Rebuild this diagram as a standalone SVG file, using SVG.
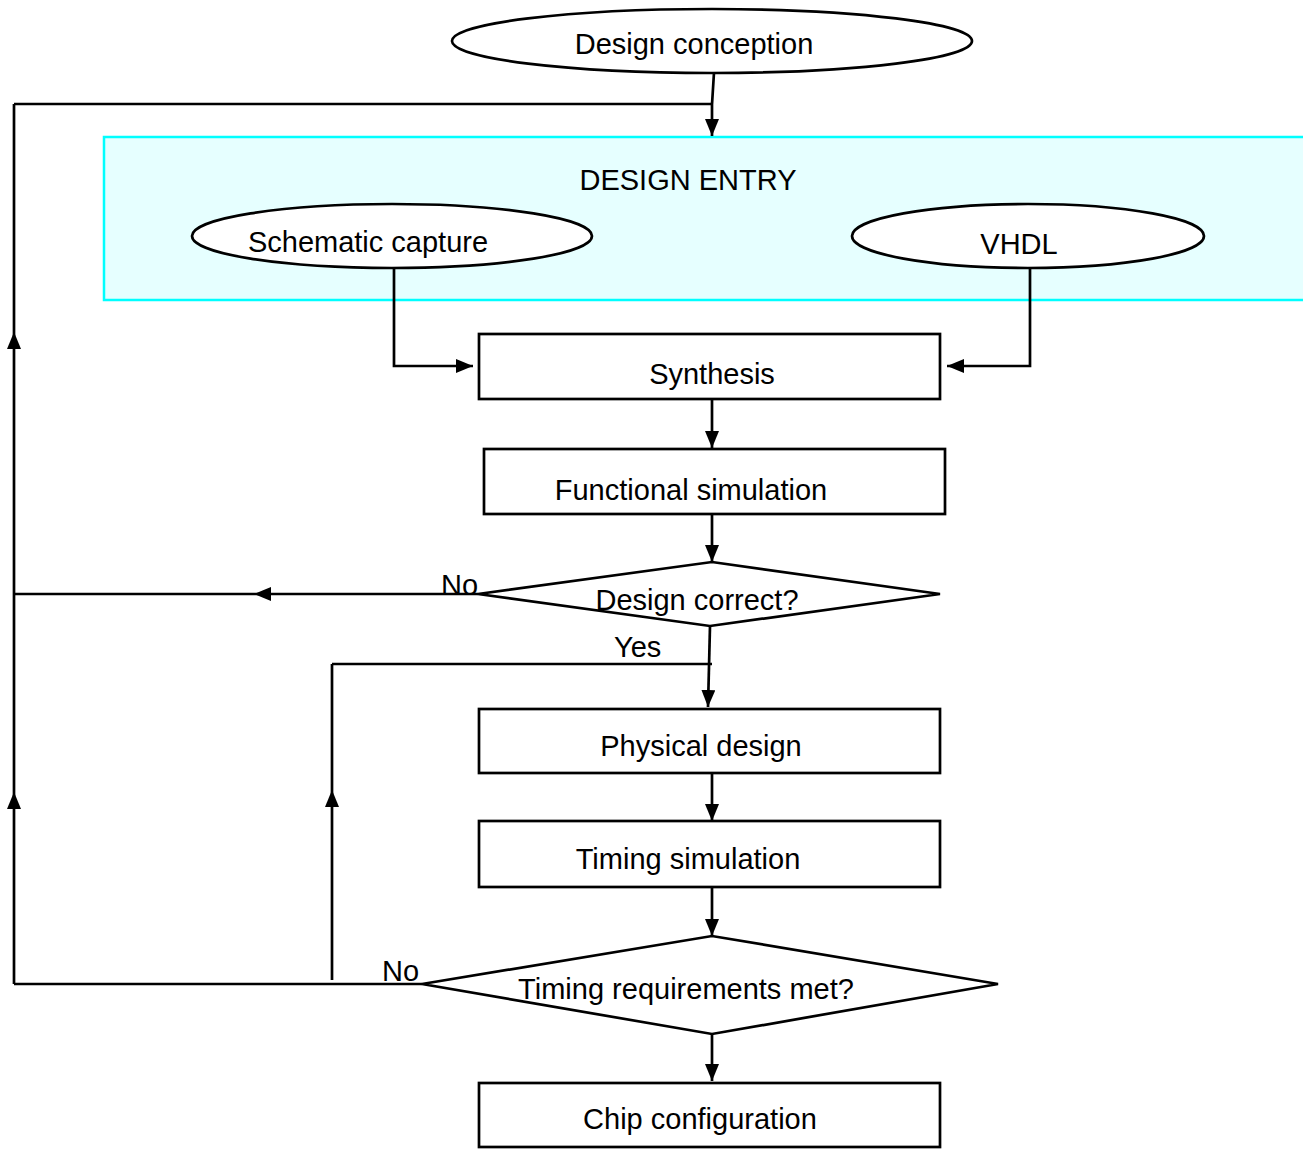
<svg xmlns="http://www.w3.org/2000/svg" width="1303" height="1149" viewBox="0 0 1303 1149">
<style>
.n{fill:#fff;stroke:#000;stroke-width:2.7}
.t{font-family:"Liberation Sans",Arial,sans-serif;font-size:29px;fill:#000;text-anchor:middle}
.l{font-family:"Liberation Sans",Arial,sans-serif;font-size:29px;fill:#000}
.c{fill:none;stroke:#000;stroke-width:2.7}
.a{fill:none;stroke:#000;stroke-width:2.7;marker-end:url(#ah)}
</style>
<defs>
<marker id="ah" markerWidth="17" markerHeight="14" refX="17" refY="7" orient="auto" markerUnits="userSpaceOnUse">
<path d="M0,0 L17,7 L0,14 Z" fill="#000"/>
</marker>
</defs>
<rect x="0" y="0" width="1303" height="1149" fill="#fff"/>
<g id="design-entry">
<rect x="104" y="137" width="1210" height="163" fill="#e6ffff" stroke="#00ffff" stroke-width="2.5"/>
<text class="t" x="688" y="190">DESIGN ENTRY</text>
</g>
<g id="connectors">
<path class="c" d="M714,73 L712,104"/>
<path class="a" d="M712,104 L712,136"/>
<path class="c" d="M712,104 L14,104"/>
<path class="a" d="M394,268 L394,366 L473,366"/>
<path class="a" d="M1030,268 L1030,366 L947,366"/>
<path class="a" d="M712,399 L712,448"/>
<path class="a" d="M712,514 L712,562"/>
<path class="a" d="M478,594 L254,594"/>
<path class="c" d="M254,594 L14,594"/>
<path class="a" d="M710,626 L708,707"/>
<path class="c" d="M712,664 L332,664"/>
<path class="a" d="M332,980 L332,790"/>
<path class="c" d="M332,790 L332,664"/>
<path class="a" d="M712,773 L712,821"/>
<path class="a" d="M712,887 L712,936"/>
<path class="c" d="M422,984 L14,984"/>
<path class="a" d="M14,984 L14,792"/>
<path class="a" d="M14,792 L14,332"/>
<path class="c" d="M14,332 L14,104"/>
<path class="a" d="M712,1034 L712,1081"/>
<text class="l" x="441" y="595">No</text>
<text class="l" x="614" y="657">Yes</text>
<text class="l" x="382" y="981">No</text>
</g>
<g id="design-conception">
<ellipse class="n" cx="712" cy="41" rx="260" ry="32"/>
<text class="t" x="694" y="54">Design conception</text>
</g>
<g id="schematic-capture">
<ellipse class="n" cx="392" cy="236" rx="200" ry="32"/>
<text class="t" x="368" y="252">Schematic capture</text>
</g>
<g id="vhdl">
<ellipse class="n" cx="1028" cy="236" rx="176" ry="32"/>
<text class="t" x="1019" y="254">VHDL</text>
</g>
<g id="synthesis">
<rect class="n" x="479" y="334" width="461" height="65"/>
<text class="t" x="712" y="384">Synthesis</text>
</g>
<g id="functional-simulation">
<rect class="n" x="484" y="449" width="461" height="65"/>
<text class="t" x="691" y="500">Functional simulation</text>
</g>
<g id="design-correct">
<polygon class="n" points="478,594 712,562 940,594 710,626"/>
<text class="t" x="697" y="610">Design correct?</text>
</g>
<g id="physical-design">
<rect class="n" x="479" y="709" width="461" height="64"/>
<text class="t" x="701" y="756">Physical design</text>
</g>
<g id="timing-simulation">
<rect class="n" x="479" y="821" width="461" height="66"/>
<text class="t" x="688" y="869">Timing simulation</text>
</g>
<g id="timing-met">
<polygon class="n" points="422,984 712,936 998,984 712,1034"/>
<text class="t" x="686" y="999">Timing requirements met?</text>
</g>
<g id="chip-configuration">
<rect class="n" x="479" y="1083" width="461" height="64"/>
<text class="t" x="700" y="1129">Chip configuration</text>
</g>
</svg>
